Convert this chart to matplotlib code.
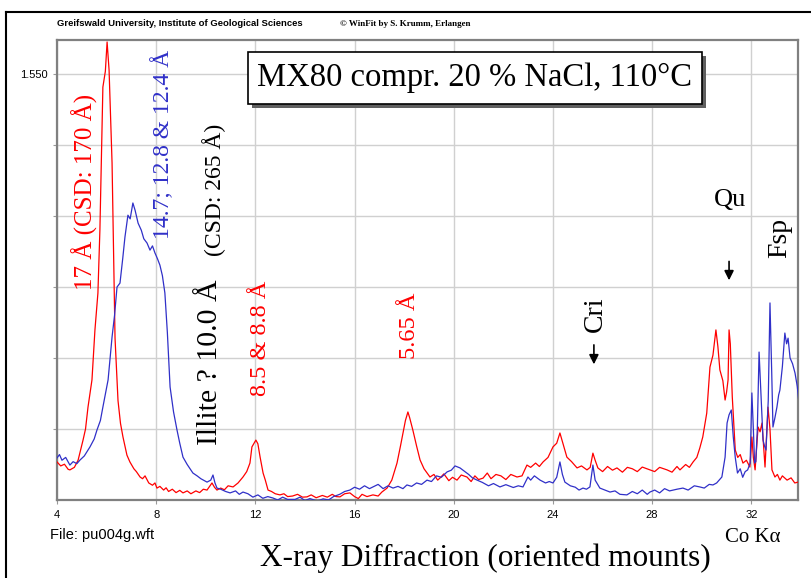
import matplotlib.pyplot as plt
from matplotlib.patches import Rectangle
from matplotlib.lines import Line2D

# XRD pattern, MX80 compr. 20 % NaCl, 110 C  (noise included)
red_2theta = [4.00, 4.15, 4.30, 4.45, 4.52, 4.70, 4.85, 5.05, 5.15, 5.25, 5.41, 5.53, 5.65, 5.73,
              5.85, 5.95, 6.02, 6.10, 6.22, 6.34, 6.46, 6.56, 6.66, 6.82, 6.94, 7.10, 7.20, 7.35,
              7.45, 7.55, 7.70, 7.85, 7.95, 8.03, 8.15, 8.30, 8.40, 8.50, 8.65, 8.80, 8.95, 9.08,
              9.25, 9.40, 9.60, 9.75, 9.90, 10.05, 10.25, 10.35, 10.45, 10.60, 10.75, 10.90, 11.10,
              11.30, 11.50, 11.65, 11.78, 11.86, 12.02, 12.10, 12.19, 12.31, 12.40, 12.51, 12.65,
              12.80, 12.99, 13.15, 13.30, 13.50, 13.70, 13.90, 14.08, 14.25, 14.45, 14.70, 14.90,
              15.10, 15.25, 15.41, 15.60, 15.81, 16.00, 16.15, 16.30, 16.50, 16.74, 16.95, 17.10,
              17.31, 17.50, 17.71, 17.85, 17.95, 18.05, 18.15, 18.22, 18.35, 18.50, 18.64, 18.80,
              19.04, 19.20, 19.35, 19.44, 19.60, 19.80, 19.95, 20.13, 20.30, 20.53, 20.70, 20.85,
              21.00, 21.18, 21.35, 21.50, 21.70, 21.90, 22.10, 22.30, 22.55, 22.75, 22.95, 23.10,
              23.30, 23.45, 23.60, 23.80, 24.00, 24.15, 24.28, 24.40, 24.56, 24.75, 24.97, 25.15,
              25.37, 25.50, 25.61, 25.70, 25.81, 26.00, 26.20, 26.40, 26.58, 26.80, 27.00, 27.20,
              27.40, 27.60, 27.91, 28.10, 28.30, 28.60, 28.80, 29.00, 29.12, 29.35, 29.50, 29.65,
              29.80, 29.92, 30.04, 30.20, 30.33, 30.45, 30.57, 30.65, 30.73, 30.85, 30.94, 31.00,
              31.06, 31.10, 31.15, 31.23, 31.35, 31.45, 31.55, 31.66, 31.80, 31.94, 32.02, 32.08,
              32.15, 32.27, 32.35, 32.43, 32.55, 32.67, 32.75, 32.83, 32.95, 33.05, 33.15, 33.25,
              33.44, 33.60, 33.75, 33.88]
red_counts = [184, 170, 176, 158, 156, 165, 190, 261, 300, 377, 473, 649, 779, 1001,
              1504, 1560, 1663, 1564, 1237, 620, 400, 320, 272, 208, 184, 160, 150, 131,
              125, 135, 110, 102, 110, 92, 98, 85, 93, 80, 88, 76, 84, 75,
              82, 72, 82, 76, 88, 85, 110, 95, 85, 92, 86, 100, 96,
              110, 131, 150, 180, 237, 261, 248, 201, 145, 120, 85, 80,
              72, 68, 72, 62, 64, 70, 60, 61, 68, 58, 66, 60,
              70, 62, 61, 72, 75, 62, 55, 70, 62, 68, 64, 78,
              92, 120, 180, 240, 286, 330, 360, 340, 296, 240, 191, 160,
              131, 140, 120, 127, 142, 118, 130, 120, 138, 131, 115, 135,
              122, 127, 145, 125, 140, 135, 122, 140, 131, 135, 173, 165,
              180, 168, 184, 200, 237, 250, 286, 250, 201, 185, 163, 170,
              156, 165, 215, 190, 163, 150, 168, 155, 163, 148, 165, 160,
              150, 166, 156, 150, 165, 156, 148, 168, 156, 175, 165, 184,
              200, 233, 272, 356, 518, 560, 649, 590, 508, 470, 402, 430,
              473, 649, 600, 413, 226, 200, 210, 180, 190, 166, 272, 200,
              156, 307, 290, 321, 166, 377, 300, 156, 131, 140, 120, 135,
              120, 128, 110, 113]

blue_2theta = [4.00, 4.10, 4.20, 4.35, 4.52, 4.65, 4.80, 4.93, 5.10, 5.33, 5.50, 5.61, 5.75, 5.85,
               6.06, 6.22, 6.32, 6.42, 6.54, 6.65, 6.74, 6.86, 6.95, 7.06, 7.15, 7.27, 7.40, 7.50,
               7.63, 7.75, 7.85, 7.95, 8.05, 8.15, 8.25, 8.35, 8.45, 8.56, 8.70, 8.84, 8.95, 9.08,
               9.25, 9.48, 9.65, 9.80, 10.05, 10.20, 10.29, 10.37, 10.45, 10.60, 10.80, 10.98, 11.20,
               11.35, 11.50, 11.70, 11.90, 12.10, 12.30, 12.50, 12.71, 12.90, 13.10, 13.30, 13.60,
               13.80, 14.00, 14.20, 14.50, 14.73, 14.95, 15.15, 15.40, 15.60, 15.81, 16.00, 16.20,
               16.40, 16.60, 16.74, 16.95, 17.15, 17.35, 17.55, 17.75, 17.95, 18.11, 18.30, 18.50,
               18.70, 18.92, 19.10, 19.30, 19.50, 19.73, 19.90, 20.05, 20.25, 20.45, 20.60, 20.75,
               20.94, 21.15, 21.40, 21.60, 21.86, 22.10, 22.40, 22.60, 22.79, 22.99, 23.10, 23.25,
               23.48, 23.70, 23.85, 24.00, 24.15, 24.28, 24.38, 24.48, 24.70, 24.90, 25.05, 25.21,
               25.35, 25.49, 25.61, 25.70, 25.89, 26.10, 26.30, 26.50, 26.70, 26.98, 27.20, 27.40,
               27.60, 27.80, 27.91, 28.10, 28.30, 28.50, 28.70, 29.00, 29.24, 29.45, 29.70, 29.92,
               30.10, 30.30, 30.45, 30.60, 30.81, 30.94, 31.02, 31.10, 31.19, 31.27, 31.35, 31.44,
               31.55, 31.65, 31.75, 31.85, 31.95, 32.02, 32.08, 32.13, 32.18, 32.24, 32.31, 32.40,
               32.47, 32.53, 32.59, 32.68, 32.75, 32.82, 32.87, 32.95, 33.03, 33.10, 33.15, 33.25,
               33.35, 33.42, 33.48, 33.56, 33.66, 33.76, 33.85, 33.92]
blue_counts = [198, 210, 190, 200, 173, 185, 178, 191, 205, 237, 265, 296, 330, 377,
               473, 624, 700, 800, 814, 900, 976, 1053, 1040, 1096, 1070, 1025, 1000, 970,
               955, 930, 945, 920, 900, 877, 840, 779, 640, 448, 360, 296, 250, 201,
               175, 145, 135, 125, 113, 120, 138, 110, 92, 88, 80, 75, 82,
               70, 78, 72, 60, 68, 56, 62, 57, 50, 60, 52, 52,
               60, 48, 55, 46, 54, 50, 62, 70, 80, 85, 95, 88,
               100, 90, 96, 105, 90, 100, 92, 98, 90, 103, 98, 110,
               105, 120, 115, 135, 130, 149, 155, 170, 163, 150, 140, 128,
               120, 112, 100, 108, 96, 104, 94, 100, 96, 131, 120, 135,
               120, 110, 115, 110, 130, 184, 140, 113, 100, 95, 85, 92,
               88, 96, 173, 120, 92, 85, 78, 82, 70, 68, 80, 72,
               85, 70, 78, 85, 75, 90, 82, 88, 92, 85, 100, 96,
               92, 105, 103, 110, 131, 201, 321, 350, 367, 272, 200, 145,
               160, 130, 150, 156, 180, 427, 300, 180, 185, 300, 571, 400,
               261, 240, 226, 400, 744, 500, 307, 340, 377, 420, 437, 520,
               638, 600, 620, 550, 530, 497, 450, 392]

x_ticks = [4, 8, 12, 16, 20, 24, 28, 32]
y_ticks = [300, 550, 800, 1050, 1300, 1550]
y_labels = ['', '', '', '', '', '1.550']

RED = '#ff0000'
BLUE = '#3030c8'
SERIF = ['Liberation Serif', 'DejaVu Serif']
SANS = ['Liberation Sans', 'DejaVu Sans']

fig = plt.figure(figsize=(8.12, 5.78), dpi=100)
ax = fig.add_axes([57 / 812, 1 - 500 / 578, 741 / 812, 460 / 578])

ax.plot(red_2theta, red_counts, color=RED, lw=0.9, zorder=3)
ax.plot(blue_2theta, blue_counts, color=BLUE, lw=0.9, zorder=3)

ax.set_xlim(4, 33.88)
ax.set_ylim(50, 1670)
ax.set_xticks(x_ticks)
ax.set_xticklabels([str(t) for t in x_ticks], family=SANS, fontsize=8)
ax.set_yticks(y_ticks)
ax.set_yticklabels(y_labels, family=SANS, fontsize=8)
ax.tick_params(axis='both', length=3, color='#999999', pad=4)
ax.grid(True, color='#d0d0d0', lw=1.0, zorder=0)
for side in ['left', 'bottom', 'right', 'top']:
    ax.spines[side].set_color('#808080')
    ax.spines[side].set_linewidth(1.6)

# peak annotations
ax.text(5.13, 1134, '17 Å (CSD: 170 Å)', rotation=90, color=RED, family=SERIF,
        fontsize=18, ha='center', va='center')
ax.text(8.27, 1303, '14.7; 12.8 & 12.4 Å', rotation=90, color=BLUE, family=SERIF,
        fontsize=17, ha='center', va='center')
ax.text(10.17, 536, 'Illite ? 10.0 Å', rotation=90, color='black', family=SERIF,
        fontsize=21.5, ha='center', va='center')
ax.text(10.33, 1141, '(CSD: 265 Å)', rotation=90, color='black', family=SERIF,
        fontsize=17, ha='center', va='center')
ax.text(12.19, 620, '8.5 & 8.8 Å', rotation=90, color=RED, family=SERIF,
        fontsize=17.5, ha='center', va='center')
ax.text(18.23, 663, '5.65 Å', rotation=90, color=RED, family=SERIF,
        fontsize=17.5, ha='center', va='center')
ax.text(25.69, 705, 'Cri', rotation=90, color='black', family=SERIF,
        fontsize=20, ha='center', va='center')
ax.annotate('', xy=(25.65, 518), xytext=(25.65, 606),
            arrowprops=dict(arrowstyle='-|>', color='black', lw=1.2, mutation_scale=14))
ax.text(31.14, 1106, 'Qu', color='black', family=SERIF, fontsize=19,
        ha='center', va='center')
ax.annotate('', xy=(31.10, 814), xytext=(31.10, 900),
            arrowprops=dict(arrowstyle='-|>', color='black', lw=1.2, mutation_scale=14))
ax.text(33.15, 972, 'Fsp', rotation=90, color='black', family=SERIF,
        fontsize=20, ha='center', va='center')

# title box with drop shadow
fig.add_artist(Rectangle((252 / 812, 1 - 108 / 578), 454 / 812, 52 / 578,
                         transform=fig.transFigure, facecolor='#606060', edgecolor='none'))
fig.add_artist(Rectangle((248 / 812, 1 - 104 / 578), 454 / 812, 52 / 578,
                         transform=fig.transFigure, facecolor='white', edgecolor='black', lw=1.2))
fig.text(475 / 812, 1 - 78 / 578, 'MX80 compr. 20 % NaCl, 110°C', family=SERIF,
         fontsize=23.5, ha='center', va='center')

# header / footer texts
fig.text(57 / 812, 1 - 24 / 578, 'Greifswald University, Institute of Geological Sciences',
         family=['Liberation Sans Narrow', 'Liberation Sans'], fontsize=6.8, weight='bold',
         ha='left', va='center')
fig.text(340 / 812, 1 - 24 / 578, '© WinFit by S. Krumm, Erlangen', family=SERIF,
         fontsize=6.5, weight='bold', ha='left', va='center')
fig.text(50 / 812, 1 - 535 / 578, 'File: pu004g.wft', family=SANS, fontsize=10.5,
         ha='left', va='center')
fig.text(753 / 812, 1 - 537 / 578, 'Co Kα', family=SERIF, fontsize=15,
         ha='center', va='center')
fig.text(485 / 812, 1 - 558 / 578, 'X-ray Diffraction (oriented mounts)', family=SERIF,
         fontsize=22.5, ha='center', va='center')

# outer frame of the page
fig.add_artist(Line2D([6 / 812, 1.0], [1 - 12 / 578, 1 - 12 / 578], transform=fig.transFigure,
                      color='black', lw=1.5))
fig.add_artist(Line2D([6 / 812, 6 / 812], [1 - 12 / 578, 0.0], transform=fig.transFigure,
                      color='black', lw=1.5))

plt.savefig('out.png', dpi=100)
